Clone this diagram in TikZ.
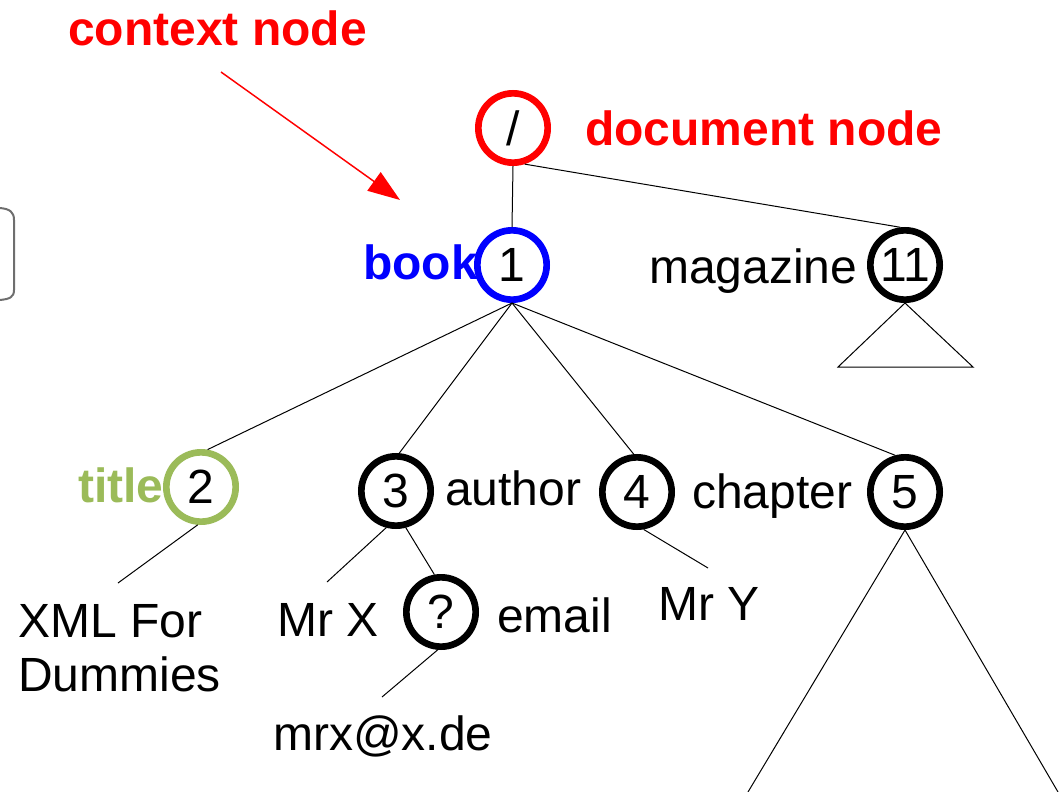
\documentclass[tikz,border=0pt]{standalone}
\usepackage{fontspec}
\setmainfont{Liberation Sans}
\usetikzlibrary{arrows.meta}
\definecolor{ctxred}{RGB}{255,0,0}
\definecolor{bookblue}{RGB}{0,0,255}
\definecolor{titlegreen}{RGB}{155,187,89}
\definecolor{bracketgray}{RGB}{110,110,110}
\begin{document}
\begin{tikzpicture}[x=0.75pt,y=-0.75pt,
  big/.style={font=\fontsize{36}{40.5}\selectfont},
  lbl/.style={big,inner sep=0pt,anchor=base west},
  boldlbl/.style={lbl,font=\fontsize{36}{40.5}\selectfont\bfseries},
  xnode/.style={circle,draw=black,line width=5pt,minimum size=52pt,inner sep=0pt,big},
  edge/.style={draw=black,line width=0.75pt},
]
\useasboundingbox (0,0) rectangle (1064,792);

% partial rounded box at left edge
\draw[bracketgray,line width=1.5pt] (0,208) .. controls (10,209) and (14,212) .. (14,220) -- (14,290) .. controls (14,297) and (10,299) .. (0,300);

% tree nodes
\node[xnode,draw=ctxred] (root) at (513,128) {/};
\node[xnode,draw=bookblue] (n1) at (512,265) {1};
\node[xnode] (n11) at (905,265) {11};
\node[xnode,draw=titlegreen] (n2) at (201,487) {2};
\node[xnode] (n3) at (396,491) {3};
\node[xnode] (n4) at (637,492) {4};
\node[xnode] (n5) at (905,492) {5};
\node[xnode] (nq) at (441,612) {?};

% labels
\node[boldlbl,text=ctxred] (ctx) at (68,46) {context node};
\node[boldlbl,text=ctxred] (doc) at (585,146) {document node};
\node[boldlbl,text=bookblue] (book) at (363,279) {book};
\node[lbl] (mag) at (649,283) {magazine};
\node[boldlbl,text=titlegreen] (title) at (78,502) {title};
\node[lbl] (auth) at (445,505) {author};
\node[lbl] (chap) at (692,508) {chapter};
\node[lbl] (mrx) at (277,636) {Mr X};
\node[lbl] (email) at (497,632) {email};
\node[lbl] (mry) at (658,620) {Mr Y};
\node[lbl,align=left] (xml) at (18,691) {XML For\\Dummies};
\node[lbl] (mail) at (273,750) {mrx@x.de};

% free ends
\coordinate (cA) at (221,72);
\coordinate (cB) at (400,200);
\coordinate (eXml) at (118,583);
\coordinate (eMrx) at (327,582);
\coordinate (eMail) at (382,697);
\coordinate (eMry) at (708,568);
\coordinate (t5l) at (748,792);
\coordinate (t5r) at (1058,792);
\coordinate (t11l) at (838,367);
\coordinate (t11r) at (973,367);

% context arrow
\draw[ctxred,line width=1.1pt,-{Triangle[length=24pt,width=17pt]}] (cA) -- (cB);

% edges
\draw[edge] (root.south) -- (n1.north);
\draw[edge] (root.-72) -- (n11.97);
\draw[edge] (n1.south) -- (n2.80);
\draw[edge] (n1.south) -- (n3.85);
\draw[edge] (n1.south) -- (n4.95);
\draw[edge] (n1.south) -- (n5.105);
\draw[edge] (n2.265) -- (eXml);
\draw[edge] (n3.255) -- (eMrx);
\draw[edge] (n3.285) -- (nq.100);
\draw[edge] (nq.265) -- (eMail);
\draw[edge] (n4.280) -- (eMry);
\draw[edge] (t5l) -- (n5.south) -- (t5r);
\draw[edge] (n11.south) -- (t11l) -- (t11r) -- cycle;
\end{tikzpicture}
\end{document}
